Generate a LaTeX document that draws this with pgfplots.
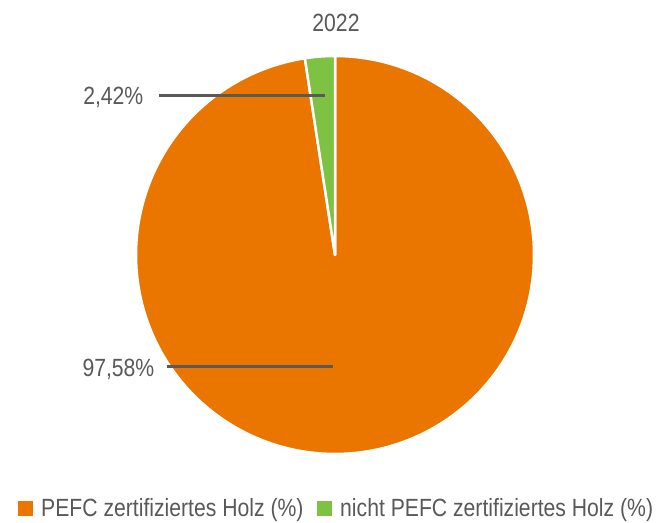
\documentclass[border=0pt]{standalone}
\usepackage{pgfplots}
\pgfplotsset{compat=1.18}
\usepackage{fontspec}
\setmainfont{Liberation Sans}[FakeStretch=0.85]
\definecolor{pefcorange}{HTML}{EA7600}
\definecolor{pefcgreen}{HTML}{7DC242}
\definecolor{txtgray}{HTML}{595959}
\definecolor{linegray}{HTML}{595959}
\begin{document}
\begin{tikzpicture}
% data (percent)
\pgfmathsetmacro{\vA}{97.58}% PEFC zertifiziertes Holz
\pgfmathsetmacro{\vB}{2.42}% nicht PEFC zertifiziertes Holz
\pgfmathsetmacro{\aStart}{90-3.6*\vA}
\pgfmathsetmacro{\bEnd}{90+3.6*\vB}
\begin{axis}[
  width=659bp, height=523bp, scale only axis,
  xmin=0, xmax=659, ymin=0, ymax=523,
  hide axis, clip=false,
  font=\fontsize{25}{29}\selectfont\color{txtgray},
]
\path (axis cs:0,0) rectangle (axis cs:659,523);
\addplot[fill=pefcorange, draw=white, line width=2.5bp, line join=round,
  domain=\aStart:90, samples=240, variable=\t]
  ({335+199*cos(\t)}, {268+199*sin(\t)}) -- (axis cs:335,268) -- cycle;
\addplot[fill=pefcgreen, draw=white, line width=2.5bp, line join=round,
  domain=90:\bEnd, samples=20, variable=\t]
  ({335+199*cos(\t)}, {268+199*sin(\t)}) -- (axis cs:335,268) -- cycle;
% leader lines
\addplot[linegray, line width=3bp] coordinates {(159,427) (325,427)};
\addplot[linegray, line width=3bp] coordinates {(167,156) (333,156)};
\node[anchor=base east, inner sep=0pt, text=txtgray] at (axis cs:143.5,418) {2,42\%};
\node[anchor=base east, inner sep=0pt, text=txtgray] at (axis cs:154.5,146) {97,58\%};
% title
\node[anchor=base, inner sep=0pt, text=txtgray] at (axis cs:336,491.5) {2022};
% legend
\node[anchor=base west, inner sep=0pt, text=txtgray] at (axis cs:18,7) {\textcolor{pefcorange}{\rule{15bp}{15bp}}\hspace{8bp}PEFC zertifiziertes Holz (\%)};
\node[anchor=base west, inner sep=0pt, text=txtgray] at (axis cs:317,7) {\textcolor{pefcgreen}{\rule{15bp}{15bp}}\hspace{8bp}nicht PEFC zertifiziertes Holz (\%)};
\end{axis}
\end{tikzpicture}
\end{document}
